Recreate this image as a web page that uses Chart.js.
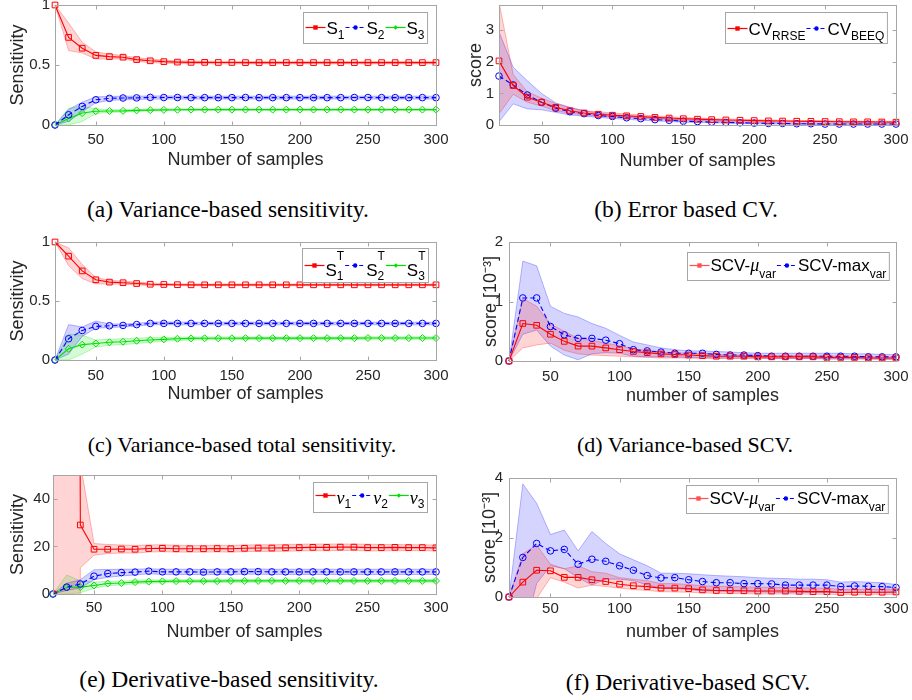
<!DOCTYPE html>
<html lang="en">
<head>
  <meta charset="UTF-8">
  <title>Sensitivity convergence</title>
  <script src="https://cdn.jsdelivr.net/npm/chart.js"></script>
  <style>
    body { margin: 0; background: #fff; }
    #fig { position: relative; width: 912px; height: 700px; overflow: hidden; }
    #fig canvas { position: absolute; }
    .cap {
      position: absolute;
      font-family: "Liberation Serif", "Times New Roman", serif;
      font-size: 22px;
      line-height: 1;
      color: #000;
      white-space: nowrap;
      transform: translateX(-50%);
    }
    .cap.big { font-size: 23.5px; }
  </style>
</head>
<body>
<div id="fig">
  <canvas id="pa" width="450" height="190" style="left:0;top:0"></canvas>
  <canvas id="pb" width="462" height="190" style="left:450px;top:0"></canvas>
  <canvas id="pc" width="450" height="190" style="left:0;top:230px"></canvas>
  <canvas id="pd" width="462" height="190" style="left:450px;top:230px"></canvas>
  <canvas id="pe" width="450" height="190" style="left:0;top:460px"></canvas>
  <canvas id="pf" width="462" height="190" style="left:450px;top:460px"></canvas>

  <div class="cap big" style="left:228px;top:198px">(a) Variance-based sensitivity.</div>
  <div class="cap big" style="left:686px;top:198px">(b) Error based CV.</div>
  <div class="cap" style="left:242px;top:434px">(c) Variance-based total sensitivity.</div>
  <div class="cap" style="left:685px;top:434px">(d) Variance-based SCV.</div>
  <div class="cap big" style="left:229px;top:668px">(e) Derivative-based sensitivity.</div>
  <div class="cap big" style="left:688px;top:671px">(f) Derivative-based SCV.</div>
</div>

<script>
// ---- data -------------------------------------------------------------
const samples = [20, 30, 40, 50, 60, 70, 80, 90, 100, 110,
                 120, 130, 140, 150, 160, 170, 180, 190, 200, 210,
                 220, 230, 240, 250, 260, 270, 280, 290, 300];
const xTicks = [50, 100, 150, 200, 250, 300];

// (a) first order indices
const s1   = [1.00, 0.73, 0.64, 0.58, 0.57, 0.565, 0.545, 0.535, 0.528, 0.524,
              0.522, 0.522, 0.521, 0.521, 0.520, 0.520, 0.520, 0.520, 0.520, 0.520,
              0.520, 0.520, 0.520, 0.520, 0.520, 0.520, 0.520, 0.520, 0.520];
const s1Hi = [1.00, 0.85, 0.69, 0.61, 0.59, 0.58, 0.56, 0.55, 0.54, 0.535,
              0.533, 0.532, 0.531, 0.531, 0.530, 0.530, 0.530, 0.530, 0.530, 0.530,
              0.530, 0.530, 0.530, 0.530, 0.530, 0.530, 0.530, 0.530, 0.530];
const s1Lo = [1.00, 0.62, 0.60, 0.55, 0.55, 0.55, 0.53, 0.52, 0.515, 0.512,
              0.511, 0.511, 0.510, 0.510, 0.510, 0.510, 0.510, 0.510, 0.510, 0.510,
              0.510, 0.510, 0.510, 0.510, 0.510, 0.510, 0.510, 0.510, 0.510];
const s2   = [0, 0.085, 0.155, 0.21, 0.222, 0.225, 0.226, 0.230, 0.229, 0.229,
              0.228, 0.228, 0.228, 0.228, 0.229, 0.228, 0.228, 0.228, 0.228, 0.228,
              0.228, 0.228, 0.229, 0.229, 0.228, 0.228, 0.228, 0.228, 0.228];
const s2Hi = [0, 0.13, 0.19, 0.235, 0.238, 0.240, 0.240, 0.242, 0.242, 0.241,
              0.240, 0.240, 0.240, 0.240, 0.240, 0.240, 0.240, 0.240, 0.240, 0.240,
              0.240, 0.240, 0.240, 0.240, 0.240, 0.240, 0.240, 0.240, 0.240];
const s2Lo = [0, 0.03, 0.11, 0.185, 0.205, 0.210, 0.212, 0.216, 0.216, 0.216,
              0.216, 0.216, 0.216, 0.216, 0.216, 0.216, 0.216, 0.216, 0.216, 0.216,
              0.216, 0.216, 0.216, 0.216, 0.216, 0.216, 0.216, 0.216, 0.216];
const s3   = [0, 0.055, 0.10, 0.115, 0.117, 0.118, 0.122, 0.124, 0.126, 0.127,
              0.128, 0.128, 0.128, 0.128, 0.128, 0.128, 0.128, 0.128, 0.128, 0.128,
              0.128, 0.128, 0.128, 0.128, 0.128, 0.128, 0.128, 0.128, 0.128];
const s3Hi = [0, 0.14, 0.155, 0.135, 0.127, 0.128, 0.130, 0.132, 0.134, 0.134,
              0.134, 0.134, 0.134, 0.134, 0.134, 0.134, 0.134, 0.134, 0.134, 0.134,
              0.134, 0.134, 0.134, 0.134, 0.134, 0.134, 0.134, 0.134, 0.134];
const s3Lo = [0, 0.0, 0.03, 0.095, 0.105, 0.108, 0.114, 0.117, 0.119, 0.121,
              0.122, 0.122, 0.122, 0.122, 0.122, 0.122, 0.122, 0.122, 0.122, 0.122,
              0.122, 0.122, 0.122, 0.122, 0.122, 0.122, 0.122, 0.122, 0.122];

// (b) error based CV
const rrse   = [2.03, 1.25, 0.88, 0.72, 0.56, 0.45, 0.38, 0.34, 0.31, 0.29,
                0.27, 0.24, 0.22, 0.20, 0.185, 0.17, 0.16, 0.15, 0.14, 0.13,
                0.125, 0.12, 0.115, 0.11, 0.105, 0.10, 0.10, 0.095, 0.09];
const rrseHi = [3.90, 1.60, 1.05, 0.85, 0.68, 0.55, 0.45, 0.42, 0.38, 0.35,
                0.32, 0.29, 0.26, 0.24, 0.22, 0.20, 0.19, 0.18, 0.17, 0.16,
                0.15, 0.145, 0.14, 0.135, 0.13, 0.125, 0.12, 0.12, 0.115];
const rrseLo = [0.35, 0.97, 0.72, 0.60, 0.45, 0.37, 0.32, 0.28, 0.26, 0.24,
                0.22, 0.20, 0.18, 0.17, 0.15, 0.14, 0.13, 0.12, 0.11, 0.10,
                0.10, 0.095, 0.09, 0.085, 0.08, 0.08, 0.075, 0.07, 0.07];
const beeq   = [1.55, 1.27, 0.95, 0.72, 0.53, 0.42, 0.36, 0.30, 0.27, 0.23,
                0.20, 0.17, 0.15, 0.12, 0.11, 0.09, 0.08, 0.07, 0.06, 0.05,
                0.05, 0.04, 0.04, 0.03, 0.03, 0.03, 0.03, 0.03, 0.03];
const beeqHi = [2.95, 1.83, 1.40, 1.00, 0.70, 0.56, 0.45, 0.38, 0.33, 0.29,
                0.25, 0.22, 0.19, 0.16, 0.14, 0.12, 0.11, 0.10, 0.09, 0.08,
                0.07, 0.065, 0.06, 0.055, 0.05, 0.05, 0.05, 0.05, 0.05];
const beeqLo = [0.10, 0.67, 0.51, 0.48, 0.40, 0.32, 0.28, 0.24, 0.21, 0.18,
                0.15, 0.13, 0.11, 0.09, 0.08, 0.07, 0.06, 0.05, 0.04, 0.03,
                0.03, 0.02, 0.02, 0.01, 0.01, 0.01, 0.01, 0.01, 0.01];

// (c) total indices
const t1   = [1.00, 0.88, 0.755, 0.68, 0.66, 0.655, 0.648, 0.642, 0.640, 0.638,
              0.637, 0.637, 0.637, 0.637, 0.637, 0.637, 0.637, 0.637, 0.637, 0.637,
              0.637, 0.637, 0.637, 0.637, 0.637, 0.637, 0.637, 0.637, 0.637];
const t1Hi = [1.00, 0.95, 0.81, 0.70, 0.675, 0.668, 0.660, 0.652, 0.648, 0.645,
              0.644, 0.644, 0.644, 0.644, 0.644, 0.644, 0.644, 0.644, 0.644, 0.644,
              0.644, 0.644, 0.644, 0.644, 0.644, 0.644, 0.644, 0.644, 0.644];
const t1Lo = [1.00, 0.80, 0.69, 0.645, 0.645, 0.642, 0.636, 0.632, 0.632, 0.631,
              0.630, 0.630, 0.630, 0.630, 0.630, 0.630, 0.630, 0.630, 0.630, 0.630,
              0.630, 0.630, 0.630, 0.630, 0.630, 0.630, 0.630, 0.630, 0.630];
const t2   = [0, 0.18, 0.25, 0.285, 0.29, 0.293, 0.300, 0.310, 0.310, 0.310,
              0.310, 0.310, 0.310, 0.310, 0.310, 0.310, 0.310, 0.310, 0.310, 0.310,
              0.310, 0.310, 0.310, 0.310, 0.310, 0.310, 0.310, 0.310, 0.310];
const t2Hi = [0, 0.30, 0.28, 0.33, 0.305, 0.305, 0.310, 0.322, 0.322, 0.322,
              0.320, 0.320, 0.320, 0.320, 0.320, 0.320, 0.320, 0.320, 0.320, 0.320,
              0.320, 0.320, 0.320, 0.320, 0.320, 0.320, 0.320, 0.320, 0.320];
const t2Lo = [0, 0.05, 0.20, 0.27, 0.275, 0.280, 0.288, 0.298, 0.298, 0.298,
              0.298, 0.298, 0.298, 0.298, 0.298, 0.298, 0.298, 0.298, 0.298, 0.298,
              0.298, 0.298, 0.298, 0.298, 0.298, 0.298, 0.298, 0.298, 0.298];
const t3   = [0, 0.095, 0.13, 0.14, 0.15, 0.155, 0.163, 0.170, 0.175, 0.180,
              0.183, 0.184, 0.184, 0.184, 0.185, 0.185, 0.185, 0.185, 0.185, 0.185,
              0.185, 0.185, 0.185, 0.186, 0.186, 0.186, 0.186, 0.186, 0.186];
const t3Hi = [0, 0.22, 0.21, 0.17, 0.175, 0.180, 0.185, 0.190, 0.190, 0.193,
              0.195, 0.195, 0.195, 0.195, 0.195, 0.195, 0.195, 0.195, 0.195, 0.195,
              0.195, 0.195, 0.195, 0.196, 0.196, 0.196, 0.196, 0.196, 0.196];
const t3Lo = [0, 0.0, 0.05, 0.11, 0.125, 0.130, 0.140, 0.150, 0.158, 0.165,
              0.170, 0.172, 0.173, 0.173, 0.174, 0.174, 0.174, 0.174, 0.174, 0.174,
              0.174, 0.174, 0.174, 0.175, 0.175, 0.175, 0.175, 0.175, 0.175];

// (d) variance based SCV  [1e-3]
const muV   = [0, 0.63, 0.60, 0.45, 0.33, 0.25, 0.25, 0.22, 0.19, 0.16,
               0.14, 0.12, 0.11, 0.10, 0.09, 0.08, 0.08, 0.08, 0.07, 0.07,
               0.07, 0.07, 0.07, 0.06, 0.06, 0.06, 0.05, 0.05, 0.05];
const muVHi = [0, 1.05, 0.92, 0.62, 0.50, 0.38, 0.35, 0.30, 0.26, 0.20,
               0.18, 0.15, 0.14, 0.13, 0.12, 0.11, 0.10, 0.10, 0.09, 0.09,
               0.09, 0.09, 0.09, 0.08, 0.08, 0.08, 0.07, 0.07, 0.07];
const muVLo = [0, 0.22, 0.27, 0.30, 0.18, 0.12, 0.10, 0.09, 0.08, 0.07,
               0.06, 0.05, 0.05, 0.05, 0.04, 0.04, 0.04, 0.04, 0.04, 0.04,
               0.04, 0.04, 0.04, 0.03, 0.03, 0.03, 0.03, 0.03, 0.03];
const mxV   = [0, 1.06, 1.06, 0.58, 0.44, 0.38, 0.38, 0.35, 0.29, 0.19,
               0.17, 0.15, 0.13, 0.13, 0.13, 0.11, 0.10, 0.10, 0.09, 0.08,
               0.08, 0.08, 0.08, 0.08, 0.08, 0.08, 0.07, 0.07, 0.07];
const mxVHi = [0, 1.68, 1.60, 0.92, 0.80, 0.74, 0.63, 0.55, 0.43, 0.32,
               0.27, 0.22, 0.19, 0.17, 0.17, 0.16, 0.15, 0.14, 0.13, 0.13,
               0.13, 0.13, 0.13, 0.13, 0.13, 0.12, 0.12, 0.11, 0.11];
const mxVLo = [0, 0.45, 0.52, 0.25, 0.10, 0.02, 0.12, 0.14, 0.13, 0.08,
               0.07, 0.07, 0.07, 0.06, 0.06, 0.05, 0.05, 0.05, 0.05, 0.04,
               0.04, 0.04, 0.04, 0.04, 0.04, 0.04, 0.04, 0.03, 0.03];

// (e) derivative based indices
const n1   = [0, 1500, 29, 18.8, 18.8, 18.9, 18.8, 19.1, 19.2, 19.0,
              19.0, 19.0, 19.1, 19.0, 19.2, 19.3, 19.3, 19.4, 19.5, 19.6,
              19.6, 19.7, 19.7, 19.5, 19.5, 19.6, 19.5, 19.5, 19.4];
const n1Hi = [0, 3000, 55, 21.2, 20.8, 20.6, 20.4, 20.6, 20.7, 20.5,
              20.4, 20.4, 20.5, 20.4, 20.6, 20.7, 20.7, 20.8, 20.9, 21.0,
              21.0, 21.0, 21.0, 20.9, 20.8, 20.8, 20.7, 20.7, 20.6];
const n1Lo = [0, -3000, 11, 16.3, 17.0, 17.2, 17.2, 17.6, 17.8, 17.6,
              17.6, 17.6, 17.7, 17.6, 17.8, 17.9, 17.9, 18.0, 18.1, 18.2,
              18.2, 18.3, 18.3, 18.1, 18.1, 18.2, 18.2, 18.2, 18.1];
const n2   = [0, 2.9, 4.2, 7.5, 8.6, 9.0, 9.2, 9.6, 9.3, 9.3,
              9.3, 9.2, 9.3, 9.3, 9.4, 9.4, 9.3, 9.3, 9.3, 9.3,
              9.3, 9.3, 9.3, 9.3, 9.3, 9.3, 9.3, 9.3, 9.3];
const n2Hi = [0, 4.5, 6.0, 10.2, 10.3, 10.4, 10.4, 10.6, 10.4, 10.4,
              10.4, 10.3, 10.4, 10.4, 10.5, 10.5, 10.4, 10.4, 10.4, 10.4,
              10.4, 10.4, 10.4, 10.4, 10.4, 10.4, 10.4, 10.4, 10.4];
const n2Lo = [0, 1.5, 2.5, 6.0, 7.0, 7.6, 8.0, 8.5, 8.2, 8.2,
              8.2, 8.1, 8.2, 8.2, 8.3, 8.3, 8.2, 8.2, 8.2, 8.2,
              8.2, 8.2, 8.2, 8.2, 8.2, 8.2, 8.2, 8.2, 8.2];
const n3   = [0, 2.7, 2.9, 3.6, 4.4, 4.6, 5.0, 5.2, 5.3, 5.4,
              5.4, 5.4, 5.4, 5.5, 5.5, 5.5, 5.5, 5.5, 5.5, 5.5,
              5.5, 5.5, 5.5, 5.5, 5.5, 5.5, 5.5, 5.5, 5.5];
const n3Hi = [0, 8.0, 5.5, 5.0, 5.3, 5.4, 5.7, 5.9, 5.9, 6.0,
              6.0, 6.0, 6.0, 6.1, 6.1, 6.1, 6.1, 6.1, 6.1, 6.1,
              6.1, 6.1, 6.1, 6.1, 6.1, 6.1, 6.1, 6.1, 6.1];
const n3Lo = [0, 0.0, 0.5, 2.4, 3.5, 3.8, 4.3, 4.5, 4.7, 4.8,
              4.8, 4.8, 4.8, 4.9, 4.9, 4.9, 4.9, 4.9, 4.9, 4.9,
              4.9, 4.9, 4.9, 4.9, 4.9, 4.9, 4.9, 4.9, 4.9];

// (f) derivative based SCV  [1e-3]
const muD   = [0, 0.50, 0.90, 0.88, 0.66, 0.66, 0.58, 0.52, 0.43, 0.38,
               0.35, 0.30, 0.30, 0.28, 0.24, 0.22, 0.22, 0.21, 0.20, 0.20,
               0.20, 0.19, 0.18, 0.18, 0.15, 0.16, 0.16, 0.16, 0.17];
const muDHi = [0, 1.45, 1.75, 1.10, 0.95, 1.05, 0.85, 0.80, 0.65, 0.60,
               0.55, 0.45, 0.45, 0.42, 0.38, 0.36, 0.35, 0.34, 0.33, 0.33,
               0.32, 0.31, 0.30, 0.30, 0.25, 0.26, 0.26, 0.26, 0.26];
const muDLo = [0, -2.0, -0.05, 0.65, 0.50, 0.30, 0.40, 0.35, 0.30, 0.25,
               0.22, 0.18, 0.17, 0.16, 0.14, 0.12, 0.12, 0.11, 0.10, 0.10,
               0.10, 0.10, 0.09, 0.09, 0.08, 0.08, 0.08, 0.08, 0.08];
const mxD   = [0, 1.33, 1.80, 1.55, 1.60, 1.10, 1.27, 1.20, 1.05, 0.90,
               0.72, 0.64, 0.65, 0.58, 0.52, 0.48, 0.48, 0.45, 0.45, 0.44,
               0.40, 0.40, 0.40, 0.40, 0.35, 0.37, 0.36, 0.35, 0.32];
const mxDHi = [0, 3.80, 3.15, 2.10, 2.25, 1.55, 2.20, 1.80, 1.45, 1.25,
               1.05, 0.80, 0.80, 0.78, 0.75, 0.72, 0.70, 0.68, 0.65, 0.63,
               0.62, 0.60, 0.60, 0.58, 0.50, 0.52, 0.50, 0.48, 0.42];
const mxDLo = [0, -1.35, 0.45, 1.05, 0.95, 0.65, 0.40, 0.60, 0.60, 0.55,
               0.40, 0.30, 0.30, 0.25, 0.20, 0.20, 0.18, 0.17, 0.17, 0.16,
               0.15, 0.15, 0.15, 0.15, 0.15, 0.15, 0.15, 0.14, 0.14];

// ---- styling helpers -----------------------------------------------------
const FONT = '"Liberation Sans", Arial, Helvetica, sans-serif';
const INK = '#262626';
const FRAME = '#a6a6a6';
Chart.defaults.font.family = FONT;
Chart.defaults.color = INK;

const RED = '#ff0000', BLUE = '#0000ff', GREEN = '#00e000';
const RED_RGB = '255,0,0', BLUE_RGB = '0,0,255', GREEN_RGB = '0,230,0';

const pts = arr => samples.map((s, i) => ({ x: s, y: arr[i] }));

function band(hi, lo, rgb) {
  return [
    { data: pts(hi), borderColor: `rgba(${rgb},0.35)`, borderWidth: 0.8,
      backgroundColor: `rgba(${rgb},0.17)`, fill: '+1', pointRadius: 0, order: 2 },
    { data: pts(lo), borderColor: `rgba(${rgb},0.35)`, borderWidth: 0.8,
      fill: false, pointRadius: 0, order: 2 }
  ];
}

const RADIUS = { rect: 4, circle: 3.3, rectRot: 3.5 };
function curve(vals, color, marker, dashed, clip) {
  return {
    data: pts(vals), borderColor: color, borderWidth: 1.1,
    borderDash: dashed ? [5, 3] : [], fill: false, order: 0,
    pointStyle: marker, pointRadius: RADIUS[marker], pointBorderWidth: 1,
    pointBorderColor: color, pointBackgroundColor: 'rgba(0,0,0,0)',
    clip: clip
  };
}

// matlab style box, inward ticks and legend
function drawMarker(ctx, style, x, y, r) {
  ctx.beginPath();
  if (style === 'rect') ctx.rect(x - r, y - r, 2 * r, 2 * r);
  else if (style === 'circle') ctx.arc(x, y, r, 0, Math.PI * 2);
  else { ctx.moveTo(x - r, y); ctx.lineTo(x, y - r); ctx.lineTo(x + r, y); ctx.lineTo(x, y + r); ctx.closePath(); }
  ctx.fill();
}

function drawLegend(chart, L) {
  const { ctx, chartArea: a } = chart;
  const mainFont = `${L.size}px ${FONT}`;
  const subFont = `${L.sub}px ${FONT}`;
  const fontOf = p => p.italic ? `italic ${L.size + 1}px "Liberation Serif", serif` : mainFont;
  const widthOf = it => it.parts.reduce((w, p) => {
    if (p.t !== undefined) { ctx.font = fontOf(p); return w + ctx.measureText(p.t).width; }
    ctx.font = subFont;
    return w + Math.max(p.sub ? ctx.measureText(p.sub).width : 0, p.sup ? ctx.measureText(p.sup).width : 0);
  }, 0);
  const widths = L.items.map(widthOf);
  const total = widths.reduce((s, w) => s + L.sample + 2 + w, 0) + 4;
  const x0 = Math.round(a.right - L.right - total) + 0.5;
  const y0 = Math.round(a.top + L.top) + 0.5;

  ctx.fillStyle = '#fff';
  ctx.fillRect(x0, y0, total, L.h);
  ctx.strokeStyle = FRAME;
  ctx.lineWidth = 1;
  ctx.strokeRect(x0, y0, total, L.h);

  let x = x0 + 2;
  L.items.forEach((it, i) => {
    const ly = y0 + L.lineY;
    ctx.strokeStyle = it.color;
    ctx.lineWidth = 1.2;
    ctx.setLineDash(it.dash ? [4, 3] : []);
    ctx.beginPath(); ctx.moveTo(x, ly); ctx.lineTo(x + L.sample, ly); ctx.stroke();
    ctx.setLineDash([]);
    ctx.fillStyle = it.color;
    drawMarker(ctx, it.marker, x + L.sample / 2, ly, 2.2);
    x += L.sample + 1;
    ctx.fillStyle = '#000';
    ctx.textBaseline = 'alphabetic';
    ctx.textAlign = 'left';
    it.parts.forEach(p => {
      if (p.t !== undefined) {
        ctx.font = fontOf(p);
        ctx.fillText(p.t, x, y0 + L.base);
        x += ctx.measureText(p.t).width;
      } else {
        ctx.font = subFont;
        let w = 0;
        if (p.sup) { ctx.fillText(p.sup, x, y0 + L.supBase); w = ctx.measureText(p.sup).width; }
        if (p.sub) { ctx.fillText(p.sub, x, y0 + L.subBase); w = Math.max(w, ctx.measureText(p.sub).width); }
        x += w;
      }
    });
    x += 1;
  });
}

const matlabAxes = {
  id: 'matlabAxes',
  afterDatasetsDraw(chart, args, opts) {
    const { ctx, chartArea: a, scales: { x, y } } = chart;
    const L = Math.round(a.left) + 0.5, R = Math.round(a.right) + 0.5;
    const T = Math.round(a.top) + 0.5, B = Math.round(a.bottom) + 0.5;
    ctx.save();
    ctx.strokeStyle = FRAME;
    ctx.lineWidth = 1;
    ctx.strokeRect(L, T, R - L, B - T);
    ctx.beginPath();
    x.ticks.forEach(t => {
      const px = Math.round(x.getPixelForValue(t.value)) + 0.5;
      ctx.moveTo(px, B); ctx.lineTo(px, B - 4);
      ctx.moveTo(px, T); ctx.lineTo(px, T + 4);
    });
    y.ticks.forEach(t => {
      const py = Math.round(y.getPixelForValue(t.value)) + 0.5;
      ctx.moveTo(L, py); ctx.lineTo(L + 4, py);
      ctx.moveTo(R, py); ctx.lineTo(R - 4, py);
    });
    ctx.stroke();
    if (opts.legend) drawLegend(chart, opts.legend);
    ctx.restore();
  }
};

function panel(id, p) {
  const cv = document.getElementById(id);
  const W = cv.width, H = cv.height;
  return new Chart(cv, {
    type: 'line',
    data: { datasets: p.datasets },
    options: {
      responsive: false,
      animation: false,
      events: [],
      elements: { line: { tension: 0 } },
      layout: { padding: { top: p.area.top, right: W - p.area.right, left: 0, bottom: 0 } },
      plugins: {
        legend: { display: false },
        tooltip: { enabled: false },
        matlabAxes: { legend: p.legend }
      },
      scales: {
        x: {
          type: 'linear', min: 20, max: 300,
          grid: { display: false, drawTicks: false }, border: { display: false },
          afterBuildTicks: s => { s.ticks = xTicks.map(v => ({ value: v })); },
          afterFit: s => { s.height = H - p.area.bottom; s.paddingLeft = 0; s.paddingRight = 0; },
          ticks: { font: { size: 15 }, color: INK, padding: p.xTickPad, maxRotation: 0, autoSkip: false,
                   callback: v => String(v) },
          title: { display: true, text: p.xTitle, color: INK, font: { size: 18 },
                   padding: { top: 0, bottom: p.xTitlePad } }
        },
        y: {
          type: 'linear', min: p.yMin, max: p.yMax,
          grid: { display: false, drawTicks: false }, border: { display: false },
          afterBuildTicks: s => { s.ticks = p.yTicks.map(v => ({ value: v })); },
          afterFit: s => { s.width = p.area.left; s.paddingTop = 0; s.paddingBottom = 0; },
          ticks: { font: { size: 15 }, color: INK, padding: p.yTickPad, autoSkip: false,
                   callback: v => String(v) },
          title: { display: true, text: p.yTitle, color: INK, font: { size: 18 },
                   padding: { top: p.yTitlePad, bottom: 0 } }
        }
      }
    },
    plugins: [matlabAxes]
  });
}

const legendRGB = (sub) => [
  { color: RED, marker: 'rect', dash: false, parts: [{ t: 'S' }, sub('1')] },
  { color: BLUE, marker: 'circle', dash: true, parts: [{ t: 'S' }, sub('2')] },
  { color: GREEN, marker: 'rectRot', dash: false, parts: [{ t: 'S' }, sub('3')] }
];
const scvItems = [
  { color: '#ff5050', marker: 'rect', dash: false, parts: [{ t: 'SCV-' }, { t: 'μ', italic: true }, { sub: 'var' }] },
  { color: BLUE, marker: 'circle', dash: true, parts: [{ t: 'SCV-max' }, { sub: 'var' }] }
];

// (a)
panel('pa', {
  area: { left: 55, right: 436, top: 5, bottom: 125 },
  yMin: 0, yMax: 1, yTicks: [0, 0.5, 1],
  yTitle: 'Sensitivity', xTitle: 'Number of samples',
  xTickPad: 6, yTickPad: 5, xTitlePad: 19, yTitlePad: 7,
  datasets: [
    curve(s1, RED, 'rect', false, 6), curve(s2, BLUE, 'circle', true, 6), curve(s3, GREEN, 'rectRot', false, 6),
    ...band(s1Hi, s1Lo, RED_RGB), ...band(s2Hi, s2Lo, BLUE_RGB), ...band(s3Hi, s3Lo, GREEN_RGB)
  ],
  legend: { size: 17, sub: 12, h: 31, top: 7, right: 9, sample: 20, lineY: 15, base: 21, subBase: 26,
            items: legendRGB(n => ({ sub: n })) }
});

// (b)
panel('pb', {
  area: { left: 49, right: 446, top: 1, bottom: 125 },
  yMin: 0, yMax: 3.8, yTicks: [0, 1, 2, 3],
  yTitle: 'score', xTitle: 'Number of samples',
  xTickPad: 6, yTickPad: 5, xTitlePad: 18, yTitlePad: 15,
  datasets: [
    curve(rrse, RED, 'rect', false, 6), curve(beeq, BLUE, 'circle', true, 6),
    ...band(rrseHi, rrseLo, RED_RGB), ...band(beeqHi, beeqLo, BLUE_RGB)
  ],
  legend: { size: 17, sub: 12, h: 31, top: 7, right: 9, sample: 20, lineY: 16, base: 22, subBase: 27,
            items: [
              { color: RED, marker: 'rect', dash: false, parts: [{ t: 'CV' }, { sub: 'RRSE' }] },
              { color: BLUE, marker: 'circle', dash: true, parts: [{ t: 'CV' }, { sub: 'BEEQ' }] }
            ] }
});

// (c)
panel('pc', {
  area: { left: 55, right: 436, top: 12, bottom: 130 },
  yMin: 0, yMax: 1, yTicks: [0, 0.5, 1],
  yTitle: 'Sensitivity', xTitle: 'Number of samples',
  xTickPad: 7, yTickPad: 5, xTitlePad: 15, yTitlePad: 7,
  datasets: [
    curve(t1, RED, 'rect', false, 6), curve(t2, BLUE, 'circle', true, 6), curve(t3, GREEN, 'rectRot', false, 6),
    ...band(t1Hi, t1Lo, RED_RGB), ...band(t2Hi, t2Lo, BLUE_RGB), ...band(t3Hi, t3Lo, GREEN_RGB)
  ],
  legend: { size: 17, sub: 12, h: 34, top: 6, right: 8, sample: 20, lineY: 17, base: 27, subBase: 31, supBase: 11,
            items: legendRGB(n => ({ sub: n, sup: 'T' })) }
});

// (d)
panel('pd', {
  area: { left: 59, right: 446, top: 12, bottom: 131 },
  yMin: 0, yMax: 2, yTicks: [0, 1, 2],
  yTitle: 'score [10⁻³]', xTitle: 'number of samples',
  xTickPad: 7, yTickPad: 6, xTitlePad: 13, yTitlePad: 30,
  datasets: [
    curve(muV, RED, 'rect', false, 6), curve(mxV, BLUE, 'circle', true, 6),
    ...band(muVHi, muVLo, RED_RGB), ...band(mxVHi, mxVLo, BLUE_RGB)
  ],
  legend: { size: 17, sub: 12, h: 28, top: 10, right: 7, sample: 20, lineY: 13, base: 18, subBase: 25,
            items: scvItems }
});

// (e)
panel('pe', {
  area: { left: 53, right: 436, top: 15, bottom: 134 },
  yMin: 0, yMax: 50, yTicks: [0, 20, 40],
  yTitle: 'Sensitivity', xTitle: 'Number of samples',
  xTickPad: 5, yTickPad: 3, xTitlePad: 7, yTitlePad: 7,
  datasets: [
    curve(n1, RED, 'rect', false), curve(n2, BLUE, 'circle', true, 6), curve(n3, GREEN, 'rectRot', false, 6),
    ...band(n1Hi, n1Lo, RED_RGB), ...band(n2Hi, n2Lo, BLUE_RGB), ...band(n3Hi, n3Lo, GREEN_RGB)
  ],
  legend: { size: 17, sub: 12, h: 30, top: 7, right: 9, sample: 20, lineY: 13, base: 21, subBase: 25,
            items: [
              { color: RED, marker: 'rect', dash: false, parts: [{ t: 'ν', italic: true }, { sub: '1' }] },
              { color: BLUE, marker: 'circle', dash: true, parts: [{ t: 'ν', italic: true }, { sub: '2' }] },
              { color: GREEN, marker: 'rectRot', dash: false, parts: [{ t: 'ν', italic: true }, { sub: '3' }] }
            ] }
});

// (f)
panel('pf', {
  area: { left: 59, right: 446, top: 18, bottom: 137 },
  yMin: 0, yMax: 4, yTicks: [0, 2, 4],
  yTitle: 'score [10⁻³]', xTitle: 'number of samples',
  xTickPad: 3, yTickPad: 6, xTitlePad: 7, yTitlePad: 29,
  datasets: [
    curve(muD, RED, 'rect', false, 6), curve(mxD, BLUE, 'circle', true, 6),
    ...band(muDHi, muDLo, RED_RGB), ...band(mxDHi, mxDLo, BLUE_RGB)
  ],
  legend: { size: 17, sub: 12, h: 28, top: 7, right: 8, sample: 20, lineY: 13, base: 18, subBase: 25,
            items: scvItems }
});
</script>
</body>
</html>
